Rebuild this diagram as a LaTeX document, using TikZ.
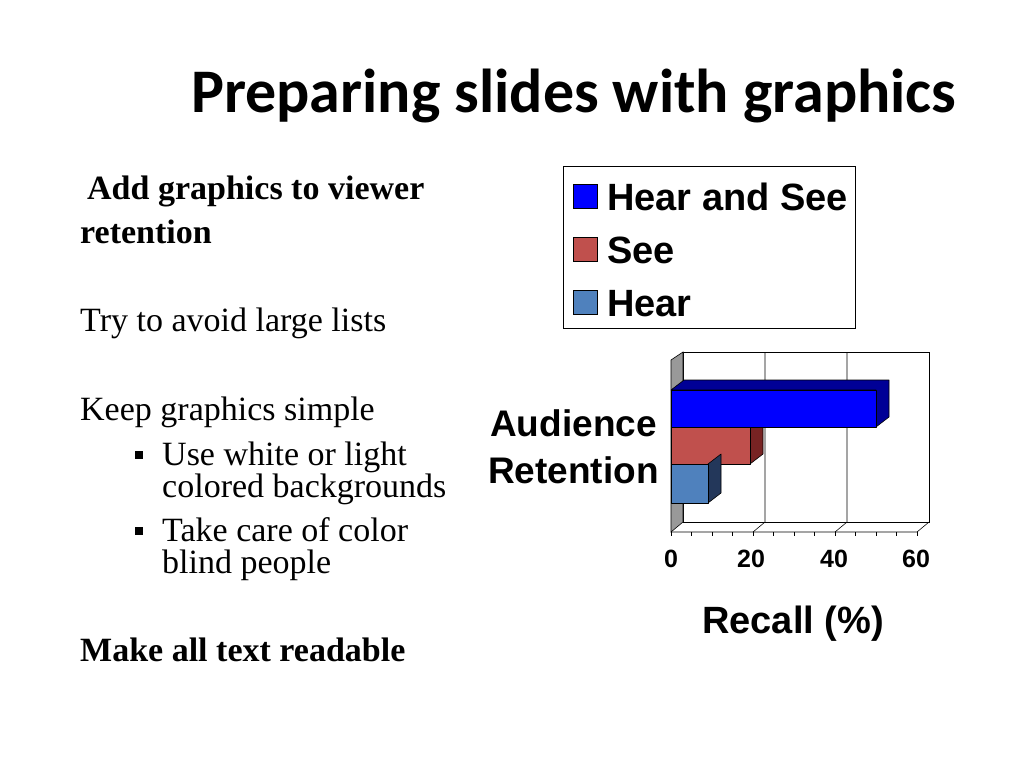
\documentclass[tikz,border=0pt]{standalone}
\usepackage{fontspec}
\setmainfont{Liberation Serif}
\newfontfamily\calfnt{Carlito}
\newfontfamily\ars{Liberation Sans}
\begin{document}
\begin{tikzpicture}[x=1pt,y=-1pt,
  txt/.style={anchor=base west,inner sep=0,font=\fontsize{34}{36}\selectfont},
  btxt/.style={anchor=base west,inner sep=0,font=\bfseries\fontsize{34}{36}\selectfont},
  lab/.style={inner sep=0,font=\ars\bfseries\fontsize{37}{40}\selectfont},
  num/.style={inner sep=0,font=\ars\bfseries\fontsize{25}{28}\selectfont},
  leg/.style={draw=black,line width=0.6pt},
  bar/.style={draw=black,line width=0.6pt,line join=round}]
\useasboundingbox (0,0) rectangle (1024,768);
\node[anchor=base west,inner sep=0,font=\calfnt\bfseries\fontsize{62}{66}\selectfont] (title) at (191,112) {Preparing slides with graphics};
\node[btxt] (t1) at (87,199) {Add graphics to viewer};
\node[btxt] (t2) at (80,243) {retention};
\node[txt] (t3) at (80,331) {Try to avoid large lists};
\node[txt] (t4) at (80,420) {Keep graphics simple};
\node[txt] (t5) at (162,465) {Use white or light};
\node[txt] (t6) at (162,497) {colored backgrounds};
\node[txt] (t7) at (162,541) {Take care of color};
\node[txt] (t8) at (162,573) {blind people};
\node[btxt] (t9) at (80,661) {Make all text readable};
\fill (135,451) rectangle (143,459);
\fill (135,527) rectangle (143,535);
% legend
\draw[line width=0.6pt] (563,166) rectangle (855,328);
\draw[leg,fill=blue] (573,184) rectangle (597,208);
\draw[leg,fill={rgb,255:red,192;green,80;blue,77}] (573,237) rectangle (597,261);
\draw[leg,fill={rgb,255:red,79;green,129;blue,189}] (573,290) rectangle (597,314);
\node[lab,anchor=base west,font=\ars\bfseries\fontsize{38}{40}\selectfont] (l1) at (607,210) {Hear and See};
\node[lab,anchor=base west,font=\ars\bfseries\fontsize{38}{40}\selectfont] (l2) at (607,263) {See};
\node[lab,anchor=base west,font=\ars\bfseries\fontsize{38}{40}\selectfont] (l3) at (607,316) {Hear};
% chart walls
\draw[line width=0.6pt] (683,352) rectangle (929,522);
\draw[line width=0.6pt,fill=gray!80] (671,360) -- (683,352) -- (683,522) -- (671,532) -- cycle;
\draw[line width=0.6pt] (671,532) -- (917,532) -- (929,522);
\foreach \i in {1,2}{\draw[line width=0.6pt] (683+82*\i,352) -- (683+82*\i,522) -- (671+82*\i,532);}
\foreach \i in {0,...,12}{\draw[line width=0.6pt] (671+20.5*\i,532) -- (671+20.5*\i,536);}
% bars
\draw[bar,fill={rgb,255:red,120;green,35;blue,35}] (750,427) -- (763,417) -- (763,454) -- (750,464) -- cycle;
\draw[bar,fill={rgb,255:red,192;green,80;blue,77}] (671,427) rectangle (750,464);
\draw[bar,fill={rgb,255:red,35;green,55;blue,90}] (708,464) -- (721,454) -- (721,493) -- (708,503) -- cycle;
\draw[bar,fill={rgb,255:red,79;green,129;blue,189}] (671,464) rectangle (708,503);
\draw[bar,fill={rgb,255:red,0;green,0;blue,150}] (671,390) -- (684,380) -- (889,380) -- (889,417) -- (876,427) -- (876,390) -- cycle;
\draw[bar,fill=blue] (671,390) rectangle (876,427);
\node[lab,anchor=base east] (a1) at (657,436) {Audience};
\node[lab,anchor=base east] (a2) at (659,483) {Retention};
\node[num,anchor=base] (n0) at (671,567) {0};
\node[num,anchor=base] (n1) at (751,567) {20};
\node[num,anchor=base] (n2) at (834,567) {40};
\node[num,anchor=base] (n3) at (916,567) {60};
\node[lab,anchor=base,font=\ars\bfseries\fontsize{38}{40}\selectfont] (rc) at (793,633) {Recall (\%)};
\end{tikzpicture}
\end{document}
